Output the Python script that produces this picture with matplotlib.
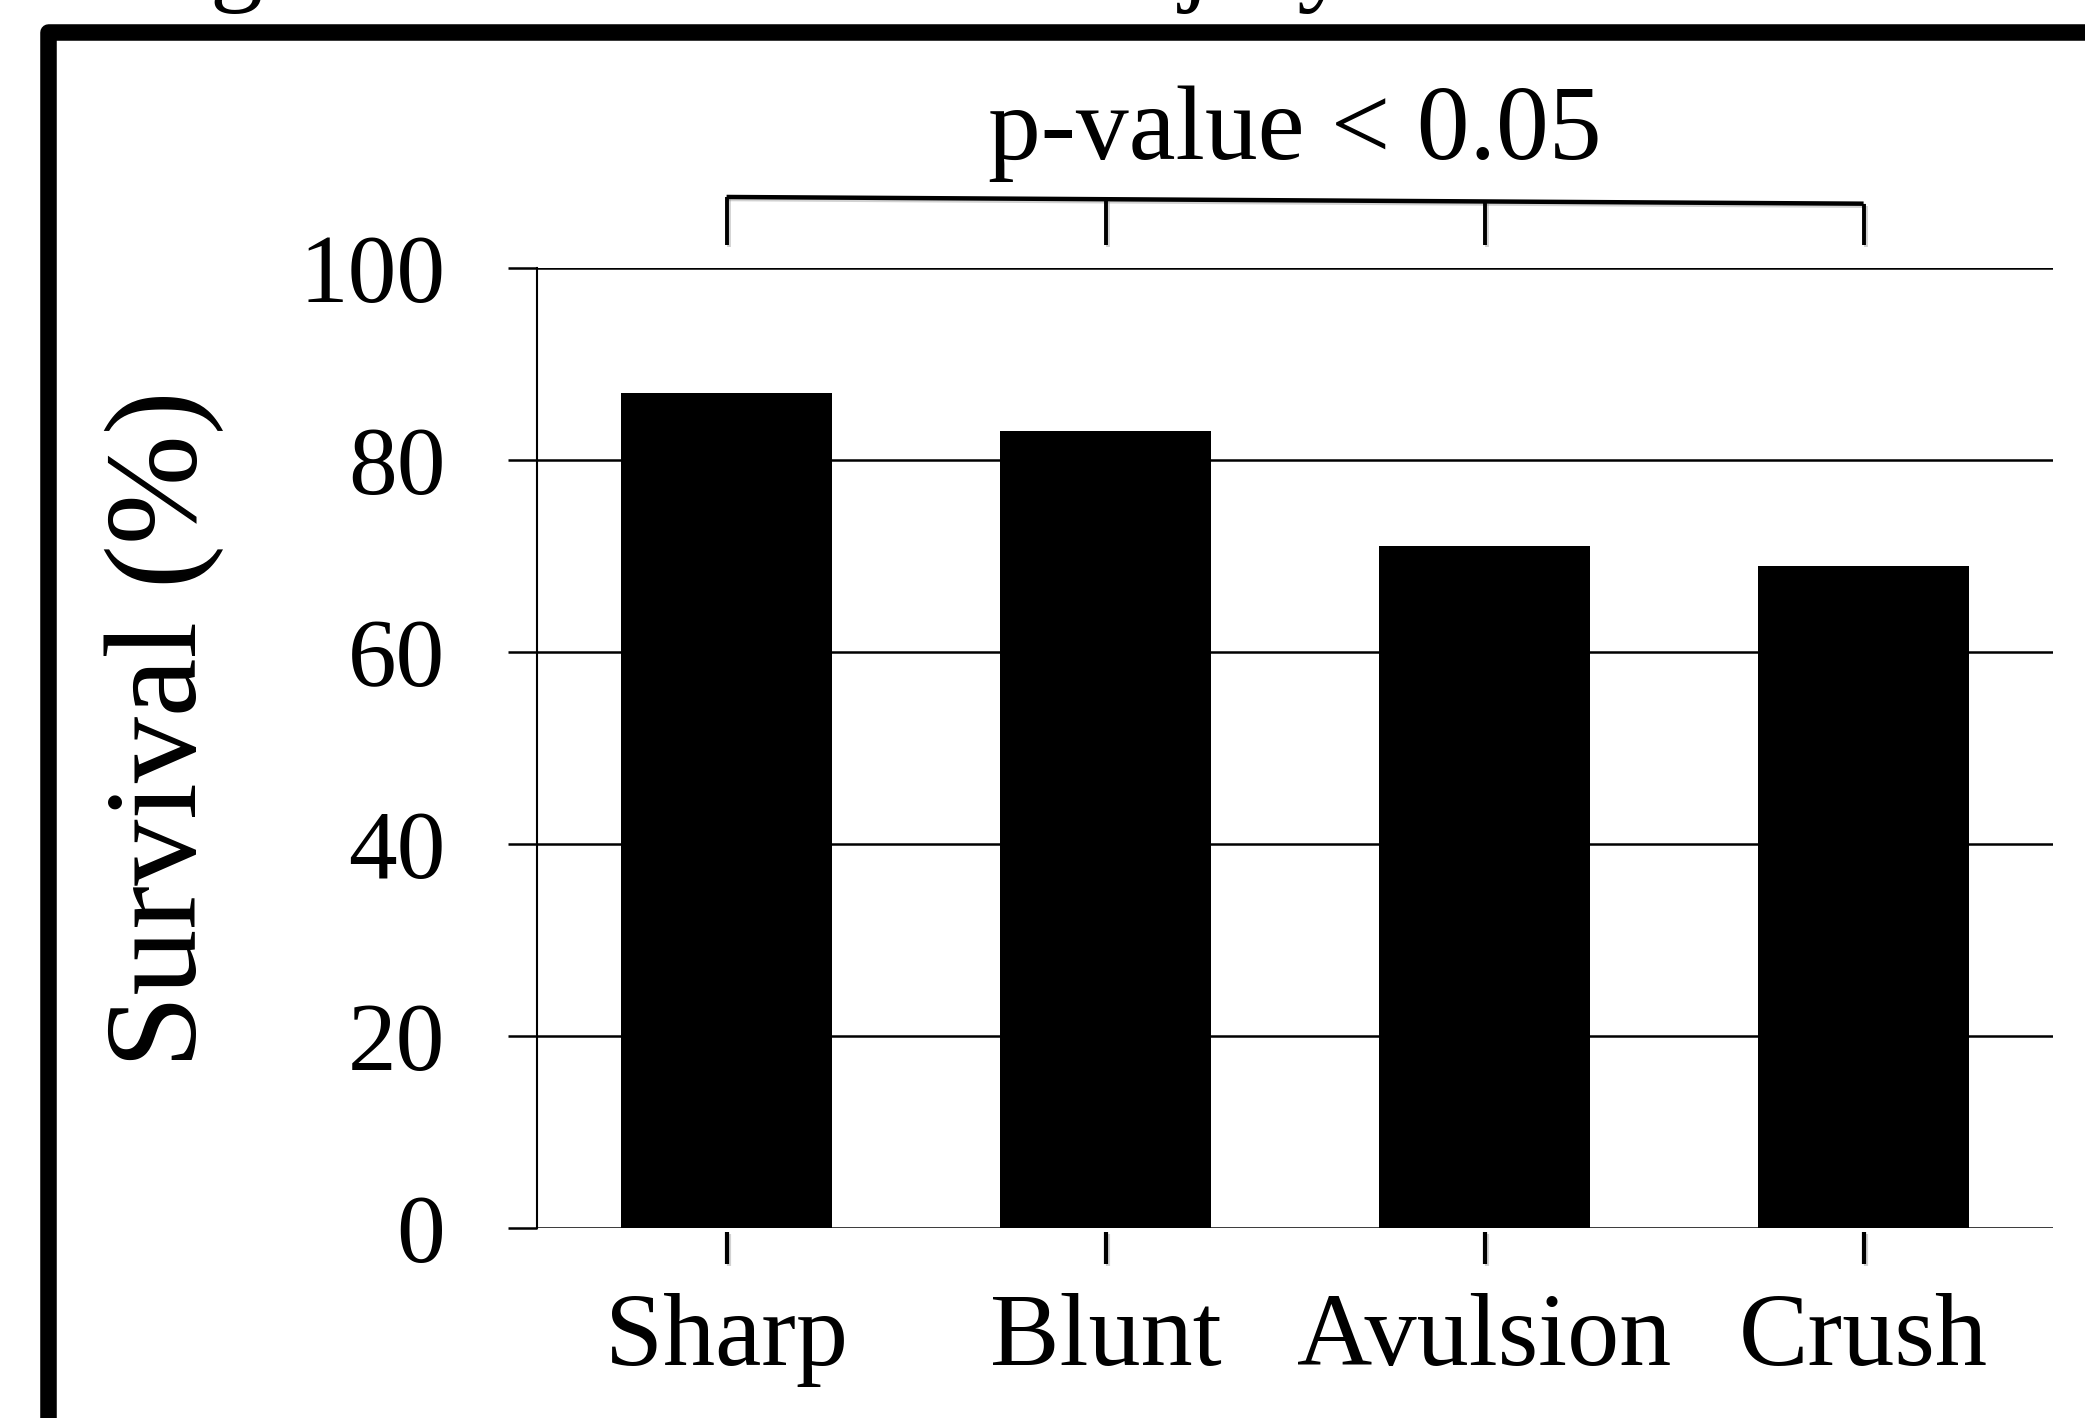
import matplotlib
matplotlib.use('Agg')
import matplotlib.pyplot as plt
import matplotlib.patheffects as pe
from matplotlib.lines import Line2D

plt.rcParams['font.family'] = ['Liberation Serif', 'DejaVu Serif']

categories = ['Sharp', 'Blunt', 'Avulsion', 'Crush']
survival = [87, 83, 71, 69]
y_ticks = [0, 20, 40, 60, 80, 100]
p_label = 'p-value < 0.05'
title_text = 'Figure 2. Survival and Injury Mechanism'  # only descenders visible

fig = plt.figure(figsize=(20.85, 14.18), dpi=100)

# thick frame round the slide (open to the right and bottom)
fig.add_artist(Line2D([0.02326, 0.02326, 1.02], [-0.02, 0.97743, 0.97743],
                      transform=fig.transFigure, color='black', lw=11.9,
                      solid_joinstyle='round', solid_capstyle='butt'))

# cut-off title above the frame
fig.text(0.0585, 1.0063, title_text, fontsize=76, ha='left', va='baseline')

ax = fig.add_axes([0.2576, 0.1340, 0.7271, 0.6770])
x = list(range(len(categories)))
ax.bar(x, survival, width=0.555, color='black', zorder=3)

ax.set_xlim(-0.5, len(categories) - 0.5)
ax.set_ylim(0, 100)
ax.set_yticks(y_ticks)
ax.set_xticks(x)
ax.set_xticklabels(categories)

ax.yaxis.grid(True, color='black', lw=1.8)
ax.set_axisbelow(True)

for s in ['top', 'right']:
    ax.spines[s].set_visible(False)
ax.spines['left'].set_linewidth(1.5)
ax.spines['bottom'].set_position(('outward', 3))
ax.spines['bottom'].set_visible(False)

ax.tick_params(axis='y', direction='out', length=21, width=1.8, pad=45, labelsize=70)
ax.tick_params(axis='x', direction='out', length=23, width=3, pad=21, labelsize=75)

shadow = [pe.SimpleLineShadow(offset=(1.5, -1.5), shadow_color='gray', alpha=0.35), pe.Normal()]
for t in ax.xaxis.get_major_ticks():
    t.tick1line.set_path_effects(shadow)

# significance bracket over all four groups
left_y, right_y, tick_bottom = 107.4, 106.7, 102.4
ax.plot([x[0], x[-1]], [left_y, right_y], color='black', lw=3.2,
        clip_on=False, solid_capstyle='butt', path_effects=shadow)
for xi in x:
    top = left_y + (right_y - left_y) * (xi - x[0]) / (x[-1] - x[0])
    ax.plot([xi, xi], [top, tick_bottom], color='black', lw=2.8,
            clip_on=False, solid_capstyle='butt', path_effects=shadow)
ax.text((x[0] + x[-1]) / 2, 111.35, p_label, fontsize=76, ha='center', va='baseline')

fig.text(0.079, 0.486, 'Survival (%)', fontsize=95, rotation=90, ha='center', va='center')

fig.savefig('out.png', dpi=100)
